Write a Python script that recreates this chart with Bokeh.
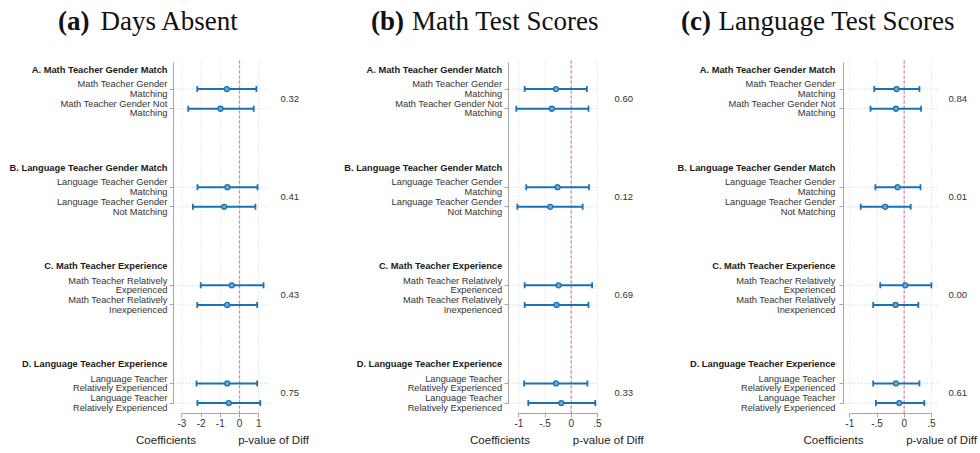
from bokeh.plotting import figure
from bokeh.models import Range1d, LinearAxis, FixedTicker, ColumnDataSource, CustomJSTickFormatter
from bokeh.layouts import row
from bokeh.embed import file_html
from bokeh.resources import INLINE
from bokeh.core.properties import value

# ---------------- data ----------------
group_titles = ["A. Math Teacher Gender Match", "B. Language Teacher Gender Match",
                "C. Math Teacher Experience", "D. Language Teacher Experience"]
row_labels = ["Math Teacher Gender\nMatching", "Math Teacher Gender Not\nMatching",
              "Language Teacher Gender\nMatching", "Language Teacher Gender\nNot Matching",
              "Math Teacher Relatively\nExperienced", "Math Teacher Relatively\nInexperienced",
              "Language Teacher\nRelatively Experienced", "Language Teacher\nRelatively Experienced"]
header_slots = [0, 5, 10, 15]
row_slots = [1, 2, 6, 7, 11, 12, 16, 17]
pvalue_slots = [1.5, 6.5, 11.5, 16.5]

panel_tags = ["(a)", "(b)", "(c)"]
panel_names = ["Days Absent", "Math Test Scores", "Language Test Scores"]

a_coef = [-0.66, -0.99, -0.63, -0.80, -0.40, -0.64, -0.64, -0.56]
a_lo = [-2.20, -2.67, -2.19, -2.43, -2.02, -2.20, -2.24, -2.19]
a_hi = [0.88, 0.74, 0.94, 0.83, 1.25, 0.92, 0.92, 1.08]
a_p = ["0.32", "0.41", "0.43", "0.75"]
a_ticks = [-3, -2, -1, 0, 1]
a_tick_labels = ["-3", "-2", "-1", "0", "1"]

b_coef = [-0.29, -0.37, -0.26, -0.40, -0.24, -0.28, -0.29, -0.19]
b_lo = [-0.89, -1.05, -0.86, -1.03, -0.89, -0.89, -0.90, -0.82]
b_hi = [0.30, 0.33, 0.34, 0.22, 0.40, 0.33, 0.31, 0.46]
b_p = ["0.60", "0.12", "0.69", "0.33"]
b_ticks = [-1, -0.5, 0, 0.5]
b_tick_labels = ["-1", "-.5", "0", ".5"]

c_coef = [-0.14, -0.15, -0.12, -0.35, 0.02, -0.16, -0.15, -0.09]
c_lo = [-0.55, -0.62, -0.53, -0.80, -0.44, -0.57, -0.57, -0.52]
c_hi = [0.28, 0.31, 0.30, 0.12, 0.50, 0.26, 0.28, 0.37]
c_p = ["0.84", "0.01", "0.00", "0.61"]
c_ticks = [-1, -0.5, 0, 0.5]
c_tick_labels = ["-1", "-.5", "0", ".5"]

# ---------------- layout constants (reference pixel positions) ----------------
H = 450
geoms = [
    dict(offset=0, width=327, zero=239.0, ppu=19.2, axis=173.3, lab=167.0, right=269.0,
         pv=289.2, coef_lab=165.5, pv_lab=273.0, tag_end=89.0, name_start=100.0),
    dict(offset=327, width=327, zero=570.7, ppu=52.3, axis=508.3, lab=501.7, right=598.0,
         pv=623.3, coef_lab=499.5, pv_lab=607.7, tag_end=403.5, name_start=411.5),
    dict(offset=654, width=326, zero=903.7, ppu=54.4, axis=842.7, lab=835.0, right=936.7,
         pv=957.2, coef_lab=833.0, pv_lab=941.0, tag_end=710.5, name_start=718.0),
]
panels = [
    (a_coef, a_lo, a_hi, a_p, a_ticks, a_tick_labels),
    (b_coef, b_lo, b_hi, b_p, b_ticks, b_tick_labels),
    (c_coef, c_lo, c_hi, c_p, c_ticks, c_tick_labels),
]

BLUE = "#1a72b4"
SANS_NAME = "Liberation Sans"
SANS = value(SANS_NAME)
SERIF = value("Liberation Serif")


def slot(ref_y):
    return (ref_y - 69.0) / 19.62


figs = []
for k, (g, (coef, lo, hi, pv, ticks, tlabels)) in enumerate(zip(geoms, panels)):
    def dx(ref_x, g=g):
        return (ref_x - g["zero"]) / g["ppu"]

    p = figure(width=g["width"], height=H,
               x_range=Range1d(dx(g["offset"]), dx(g["offset"] + g["width"])),
               y_range=Range1d(slot(H), slot(0)),
               output_backend="svg", toolbar_location=None,
               x_axis_location=None, y_axis_location=None, min_border=0)
    p.outline_line_color = None
    p.grid.visible = False
    p.background_fill_color = "white"

    top = slot(60.0)
    xax_y = slot(412.7)
    x_left = dx(g["axis"])
    x_right = dx(g["right"])

    # vertical dotted gridlines
    p.segment(x0=ticks, x1=ticks, y0=[top] * len(ticks), y1=[xax_y] * len(ticks),
              line_color="#d6d6d6", line_width=1, line_dash="1 2")
    # horizontal dotted gridlines at rows
    p.segment(x0=[x_left] * len(row_slots), x1=[x_right] * len(row_slots),
              y0=row_slots, y1=row_slots, line_color="#cfcfcf", line_width=1, line_dash="1 2")
    # zero reference line
    p.segment(x0=[0], x1=[0], y0=[top], y1=[xax_y], line_color="#d287ad",
              line_width=1.3, line_dash="3 2")

    # axes
    xaxis = LinearAxis(fixed_location=xax_y, ticker=FixedTicker(ticks=ticks),
                       bounds=(ticks[0], ticks[-1]),
                       formatter=CustomJSTickFormatter(args=dict(t=ticks, l=tlabels),
                                                       code="const i = t.indexOf(tick); return i >= 0 ? l[i] : '';"))
    xaxis.axis_line_color = "#a6a6a6"
    xaxis.major_tick_line_color = "#a6a6a6"
    xaxis.major_tick_out = 4
    xaxis.major_tick_in = 0
    xaxis.minor_tick_line_color = None
    xaxis.major_label_standoff = 2
    xaxis.major_label_text_font = SANS_NAME
    xaxis.major_label_text_font_size = "10px"
    xaxis.major_label_text_color = "#333333"
    p.add_layout(xaxis, "below")

    yaxis = LinearAxis(fixed_location=x_left, ticker=FixedTicker(ticks=row_slots),
                       bounds=(slot(61.7), row_slots[-1]),
                       formatter=CustomJSTickFormatter(code="return '';"))
    yaxis.axis_line_color = "#a6a6a6"
    yaxis.major_tick_line_color = "#a6a6a6"
    yaxis.major_tick_out = 4
    yaxis.major_tick_in = 0
    yaxis.minor_tick_line_color = None
    p.add_layout(yaxis, "left")

    # confidence intervals (bars + end caps) and point estimates
    src = ColumnDataSource(dict(y=row_slots, lo=lo, hi=hi, coef=coef))
    p.segment(x0="lo", x1="hi", y0="y", y1="y", source=src, line_color=BLUE, line_width=2)
    p.scatter(x="lo", y="y", source=src, marker="dash", angle=1.5708, size=6,
              line_color=BLUE, line_width=1.8)
    p.scatter(x="hi", y="y", source=src, marker="dash", angle=1.5708, size=6,
              line_color=BLUE, line_width=1.8)
    p.scatter(x="coef", y="y", source=src, marker="circle", size=5,
              fill_color="#6aaadb", line_color=BLUE, line_width=1.3)

    # labels
    lab_x = dx(g["lab"])
    p.text(x=[lab_x] * len(header_slots), y=header_slots, text=group_titles,
           text_font=SANS, text_font_size="9.3px", text_font_style="bold",
           text_align="right", text_baseline="middle", text_color="#1a1a1a")
    p.text(x=[lab_x] * len(row_slots), y=row_slots, text=row_labels,
           text_font=SANS, text_font_size="9.3px", text_align="right",
           text_baseline="middle", text_color="#333333", text_line_height=0.95)
    # p-values
    p.text(x=[dx(g["pv"])] * len(pvalue_slots), y=pvalue_slots, text=pv,
           text_font=SANS, text_font_size="9.5px", text_align="center",
           text_baseline="middle", text_color="#333333")
    # axis titles
    p.text(x=[dx(g["coef_lab"]), dx(g["pv_lab"])], y=[slot(439)] * 2,
           text=["Coefficients", "p-value of Diff"], text_font=SANS,
           text_font_size="11.5px", text_align="center", text_baseline="middle",
           text_color="#222222")
    # panel title
    p.text(x=[dx(g["tag_end"])], y=[slot(20)], text=[panel_tags[k]], text_font=SERIF,
           text_font_size="27px", text_font_style="bold", text_align="right",
           text_baseline="middle", text_color="#111111")
    p.text(x=[dx(g["name_start"])], y=[slot(20)], text=[panel_names[k]], text_font=SERIF,
           text_font_size="27px", text_align="left", text_baseline="middle",
           text_color="#111111")
    figs.append(p)

layout = row(*figs, spacing=0)
open("out.html", "w").write(file_html(layout, INLINE))
